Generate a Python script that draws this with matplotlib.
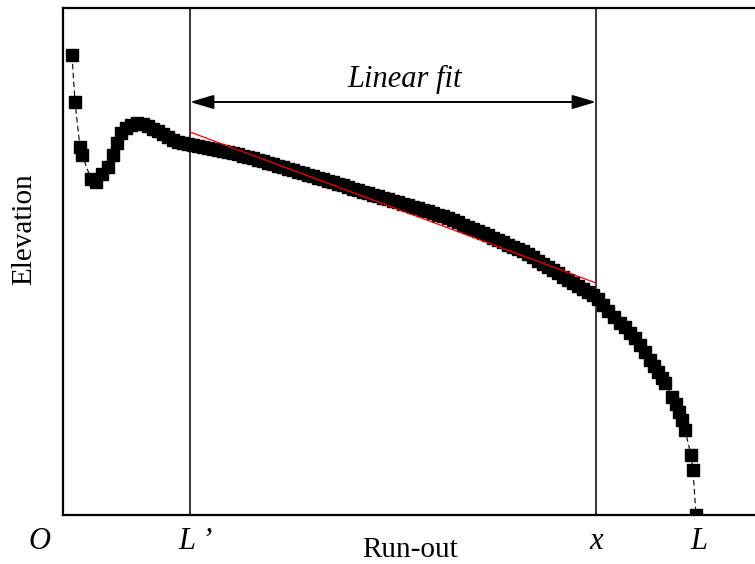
import numpy as np
import matplotlib
matplotlib.use("Agg")
import matplotlib.pyplot as plt
from matplotlib.patches import ArrowStyle

plt.rcParams['font.family'] = ['Liberation Serif', 'DejaVu Serif']

# ---- data ----
runout_head = [9, 12, 17, 19, 28, 33, 39, 45, 50, 54, 58, 63, 68, 74]
elev_head = [460, 413, 368, 360, 336, 333, 341, 348, 360, 372, 382, 387, 390, 392]

runout_mid = list(range(80, 536, 5))
elev_mid = [391, 389, 386, 384, 381, 378, 375, 373, 372, 371,
            370, 369, 368, 367, 366, 365, 364, 363, 362, 361,
            359, 358, 357, 355, 354, 352, 351, 349, 348, 346,
            345, 343, 342, 340, 339, 337, 336, 334, 333, 331,
            330, 328, 326, 325, 323, 322, 320, 319, 317, 316,
            314, 313, 311, 310, 308, 307, 305, 304, 302, 300,
            299, 297, 295, 293, 290, 288, 286, 284, 282, 280,
            277, 275, 273, 270, 268, 266, 264, 261, 258, 254,
            251, 248, 245, 242, 238, 235, 232, 229, 226, 223,
            220, 216]

runout_tail = [540, 545, 551, 557, 562, 567, 572, 577, 582, 587, 591, 595,
               599, 602, 609, 613, 616, 619, 622, 628, 630, 633]
elev_tail = [210, 204, 198, 192, 188, 182, 177, 170, 163, 155, 149, 143,
             137, 132, 118, 111, 103, 95, 85, 60, 45, 0]

runout = runout_head + runout_mid + runout_tail
elevation = elev_head + elev_mid + elev_tail

L_prime = 127
x_end = 533
L_total = 633
fit_x = [L_prime, x_end]
fit_y = [383, 232]
arrow_level = 413

bottom_labels = ['O', 'L \u2019', 'x', 'L']
bottom_label_pos = [-24, 132, 533, 636]

# ---- figure ----
W, H = 755, 564
fig = plt.figure(figsize=(W / 100, H / 100), dpi=100)
ax_left, ax_bottom = 63 / W, 49 / H
ax_w, ax_h = 697 / W, 507 / H
ax = fig.add_axes([ax_left, ax_bottom, ax_w, ax_h])
ax.set_xlim(0, 697)
ax.set_ylim(0, 507)
ax.set_xticks([])
ax.set_yticks([])
for s in ax.spines.values():
    s.set_linewidth(1.6)
    s.set_color('black')

ax.plot(runout, elevation, color='black', lw=0.8, ls=(0, (5, 3)),
        marker='s', ms=8, mfc='black', mec='black', zorder=3)

ax.plot(fit_x, fit_y, color='red', lw=0.9, zorder=4)

ax.axvline(L_prime, color='black', lw=1.1, zorder=2)
ax.axvline(x_end, color='black', lw=1.1, zorder=2)

ax.annotate('', xy=(L_prime, arrow_level), xytext=(x_end, arrow_level),
            arrowprops=dict(arrowstyle=ArrowStyle('<|-|>', head_length=1.44, head_width=0.43),
                            mutation_scale=10, color='black', lw=1.4,
                            shrinkA=0, shrinkB=0))
ax.text((L_prime + x_end) / 2 + 12, 428, 'Linear fit', fontsize=22,
        style='italic', ha='center', va='baseline')

for lab, pos in zip(bottom_labels, bottom_label_pos):
    ax.text(pos, -34, lab, fontsize=22, style='italic', ha='center',
            va='baseline', clip_on=False)

ax.text(347, -42, 'Run-out', fontsize=21, ha='center', va='baseline', clip_on=False)
ax.text(-39, 286, 'Elevation', fontsize=21, rotation=90, ha='center',
        va='center', clip_on=False)

fig.savefig('out.png', dpi=100)
